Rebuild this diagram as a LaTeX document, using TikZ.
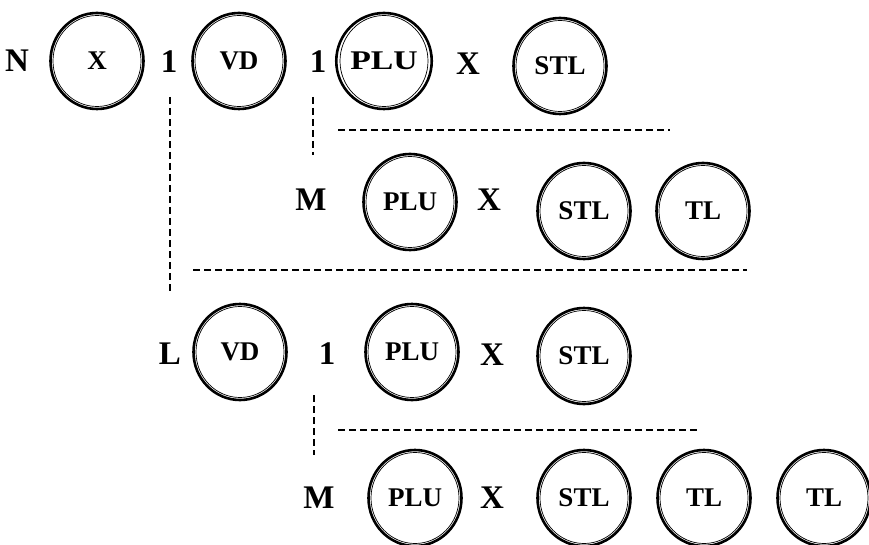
\documentclass[tikz,border=0pt]{standalone}
\usepackage{fontspec}
\setmainfont{Liberation Serif}
\usetikzlibrary{shapes.geometric}

\begin{document}
\begin{tikzpicture}[x=1pt,y=-1pt,
        state/.style={ellipse, draw, line width=2.6pt, inner sep=0pt,
            minimum width=93pt, minimum height=96pt,
            font=\fontsize{27}{27}\selectfont\bfseries,
            path picture={\draw[line width=0.7pt] (path picture bounding box.center)
                ellipse [x radius=44, y radius=45.5];}},
        lab/.style={inner sep=0pt, font=\fontsize{33}{33}\selectfont\bfseries},
        link/.style={line width=1.2pt, dash pattern=on 7pt off 4pt}
    ]
        \useasboundingbox (0,0) rectangle (869,545);

        % first row
        \node[lab] (lblN) at (17,61) {N};
        \node[state] (cX) at (97,61) {X};
        \node[lab] (one1) at (169,62) {1};
        \node[state] (cVD1) at (239,61) {VD};
        \node[lab] (one2) at (318,62) {1};
        \node[state] (cPLU1) at (384,61) {\scalebox{1.25}[1]{PLU}};
        \node[lab] (x1) at (468,64) {X};
        \node[state] (cSTL1) at (560,66) {STL};

        % second row
        \node[lab] (lblM1) at (311,200) {M};
        \node[state] (cPLU2) at (410,202) {PLU};
        \node[lab] (x2) at (489,200) {X};
        \node[state] (cSTL2) at (584,211) {STL};
        \node[state] (cTL2) at (703,211) {TL};

        % third row
        \node[lab] (lblL) at (170,354) {L};
        \node[state] (cVD3) at (240,352) {VD};
        \node[lab] (one3) at (327,354) {1};
        \node[state] (cPLU3) at (412,352) {PLU};
        \node[lab] (x3) at (492,355) {X};
        \node[state] (cSTL3) at (584,356) {STL};

        % fourth row
        \node[lab] (lblM2) at (319,498) {M};
        \node[state] (cPLU4) at (415,498) {PLU};
        \node[lab] (x4) at (492,498) {X};
        \node[state] (cSTL4) at (584,498) {STL};
        \node[state] (cTL4a) at (704,498) {TL};
        \node[state] (cTL4b) at (824,498) {TL};

        % dashed links
        \coordinate (v1top) at (170,97);
        \coordinate (v1bot) at (170,293);
        \coordinate (v2top) at (313,97);
        \coordinate (v2bot) at (313,155);
        \coordinate (h1l) at (338,130);
        \coordinate (h1r) at (670,130);
        \coordinate (h2l) at (193,270);
        \coordinate (h2r) at (747,270);
        \coordinate (v3top) at (314,395);
        \coordinate (v3bot) at (314,455);
        \coordinate (h3l) at (338,430);
        \coordinate (h3r) at (697,430);
        \draw[link] (v1top) -- (v1bot);
        \draw[link] (v2top) -- (v2bot);
        \draw[link] (h1l) -- (h1r);
        \draw[link] (h2l) -- (h2r);
        \draw[link] (v3top) -- (v3bot);
        \draw[link] (h3l) -- (h3r);
    \end{tikzpicture}
\end{document}
